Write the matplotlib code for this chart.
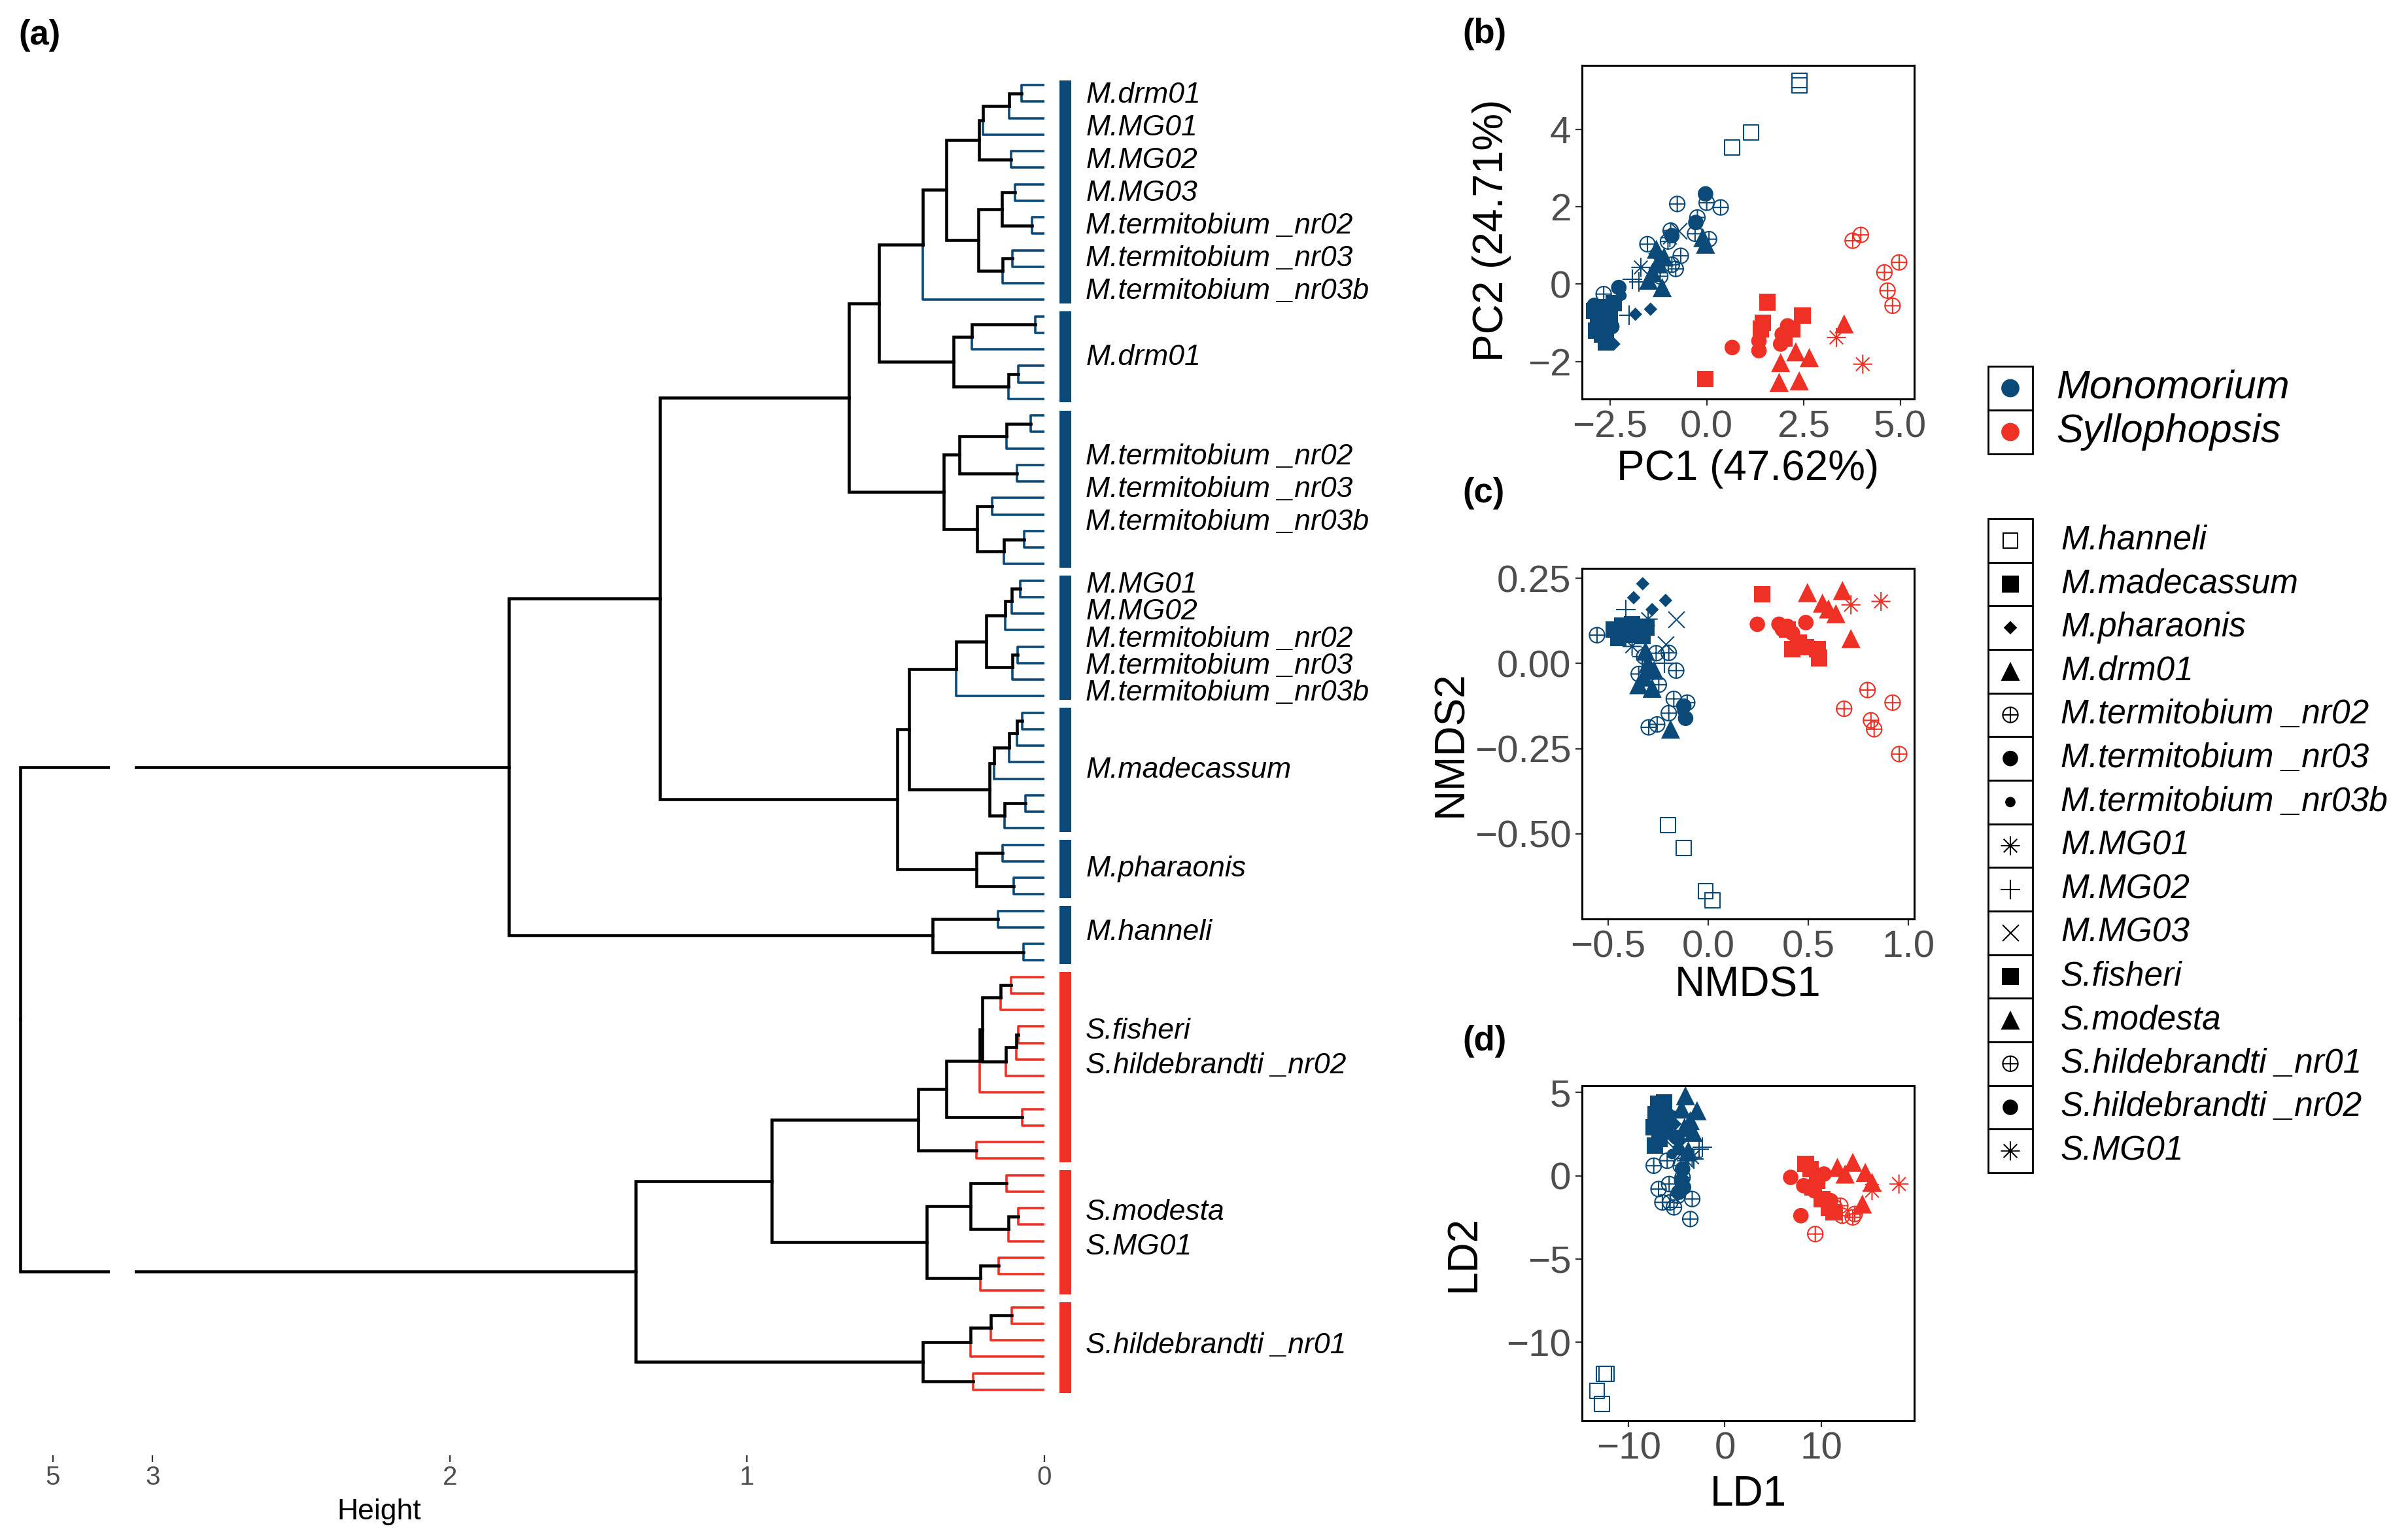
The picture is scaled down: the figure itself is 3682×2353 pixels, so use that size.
import numpy as np
import matplotlib
matplotlib.use('Agg')
import matplotlib.pyplot as plt
from matplotlib.path import Path
from matplotlib.patches import Rectangle
from matplotlib.collections import LineCollection
from matplotlib import font_manager

plt.rcParams['font.family'] = ['Liberation Sans', 'DejaVu Sans']
_names = {f.name for f in font_manager.fontManager.ttflist}
NARROW = 'Liberation Sans Narrow' if 'Liberation Sans Narrow' in _names else 'Liberation Sans'

W, H = 3682, 2353
BLUE = '#0B4A78'
RED = '#EE3124'
GREY = '#4D4D4D'

# ---------------- dendrogram (a) ----------------
n_leaves = 80
n_monomorium = 54          # leaves 0..53 Monomorium, 54..79 Syllophopsis
# merges: (child a, child b, height); ids >= 80 refer to earlier merges (80 + k)
merges = [
    (0, 1, 0.077), (80, 2, 0.118), (81, 3, 0.207), (4, 5, 0.112), (82, 83, 0.219),
    (6, 7, 0.100), (8, 9, 0.042), (85, 86, 0.143), (10, 11, 0.107), (88, 12, 0.140),
    (87, 89, 0.222), (84, 90, 0.330), (91, 13, 0.409),
    (14, 15, 0.031), (93, 16, 0.244), (17, 18, 0.089), (95, 19, 0.120), (94, 96, 0.306),
    (92, 97, 0.556),
    (20, 21, 0.047), (99, 22, 0.128), (23, 24, 0.092), (100, 101, 0.286), (25, 26, 0.176),
    (27, 28, 0.068), (104, 29, 0.137), (103, 105, 0.227), (102, 106, 0.339),
    (98, 107, 0.658),
    (30, 31, 0.081), (109, 32, 0.111), (110, 33, 0.133), (34, 35, 0.090), (112, 36, 0.107),
    (111, 113, 0.195), (114, 37, 0.298),
    (38, 39, 0.074), (116, 40, 0.092), (117, 41, 0.118), (118, 42, 0.169), (43, 44, 0.064),
    (120, 45, 0.134), (119, 121, 0.184), (115, 122, 0.455),
    (46, 47, 0.141), (48, 49, 0.104), (124, 125, 0.229), (123, 126, 0.494),
    (108, 127, 1.294),
    (50, 51, 0.157), (52, 53, 0.071), (129, 130, 0.377), (128, 131, 1.803),
    (54, 55, 0.113), (133, 56, 0.147), (57, 58, 0.089), (135, 59, 0.095), (136, 60, 0.129),
    (134, 137, 0.210), (138, 61, 0.218), (62, 63, 0.074), (139, 140, 0.331), (64, 65, 0.228),
    (141, 142, 0.424),
    (66, 67, 0.128), (68, 69, 0.087), (145, 70, 0.120), (144, 146, 0.249), (71, 72, 0.155),
    (148, 73, 0.216), (147, 149, 0.395), (143, 150, 0.918),
    (74, 75, 0.111), (152, 76, 0.180), (153, 77, 0.249), (78, 79, 0.240), (154, 155, 0.410),
    (151, 156, 1.376),
    (132, 157, 5.11),
]
clusters = [(0, 13), (14, 19), (20, 29), (30, 37), (38, 45), (46, 49), (50, 53),
            (54, 65), (66, 73), (74, 79)]
cluster_labels = [
    ['M.drm01', 'M.MG01', 'M.MG02', 'M.MG03', 'M.termitobium _nr02',
     'M.termitobium _nr03', 'M.termitobium _nr03b'],
    ['M.drm01'],
    ['M.termitobium _nr02', 'M.termitobium _nr03', 'M.termitobium _nr03b'],
    ['M.MG01', 'M.MG02', 'M.termitobium _nr02', 'M.termitobium _nr03', 'M.termitobium _nr03b'],
    ['M.madecassum'],
    ['M.pharaonis'],
    ['M.hanneli'],
    ['S.fisheri', 'S.hildebrandti _nr02'],
    ['S.modesta', 'S.MG01'],
    ['S.hildebrandti _nr01'],
]
label_shift = [0.05, 0, 0, 0.04, 0, -0.05, -0.18, -1.15, -0.18, -0.15]
label_step = [1.98, 1.98, 1.98, 1.64, 1.98, 1.98, 1.98, 2.1, 2.1, 2.1]

# ---------------- ordination data ----------------
species = ['M.hanneli', 'M.madecassum', 'M.pharaonis', 'M.drm01', 'M.termitobium _nr02',
           'M.termitobium _nr03', 'M.termitobium _nr03b', 'M.MG01', 'M.MG02', 'M.MG03',
           'S.fisheri', 'S.modesta', 'S.hildebrandti _nr01', 'S.hildebrandti _nr02', 'S.MG01']

pca_points = {
    'M.hanneli': [(2.39, 5.26), (2.40, 5.13), (0.66, 3.53), (1.14, 3.92)],
    'M.madecassum': [(-2.9, -0.7), (-2.8, -1.0), (-2.7, -1.3), (-2.6, -1.5), (-2.85, -1.2),
                     (-2.5, -0.9), (-2.4, -0.5), (-2.65, -0.6)],
    'M.pharaonis': [(-1.45, -0.65), (-1.84, -0.78), (-2.4, -1.55), (-2.55, -0.95)],
    'M.drm01': [(-0.03, 1.03), (-1.28, 0.52), (-1.15, -0.09), (-1.4, 0.3), (-1.1, 0.7),
                (-1.5, 0.1), (-0.1, 1.2), (-1.3, 0.9)],
    'M.termitobium _nr02': [(-0.76, 2.07), (0.0, 2.1), (0.36, 1.98), (-0.24, 1.72), (0.06, 1.16),
                            (-0.93, 1.38), (-1.53, 1.03), (-0.67, 0.73), (-0.8, 0.39),
                            (-2.66, -0.26), (-0.3, 1.3), (-1.0, 1.1), (-1.2, 0.2), (-0.9, 0.5)],
    'M.termitobium _nr03': [(-0.03, 2.33), (-0.28, 1.59), (-2.27, -0.09), (-0.9, 1.25),
                            (-2.9, -0.55), (-2.45, -1.1)],
    'M.termitobium _nr03b': [(-2.6, -0.8), (-2.2, -0.3), (-1.2, 0.4)],
    'M.MG01': [(-1.7, 0.43), (-0.95, 1.2)],
    'M.MG02': [(-1.92, 0.13), (-1.75, 0.05), (-2.0, -0.8)],
    'M.MG03': [(-0.72, 1.38), (-1.3, 0.6)],
    'S.fisheri': [(1.57, -0.47), (1.4, -1.16), (2.47, -0.82), (2.2, -1.16), (-0.03, -2.46),
                  (2.0, -1.4), (1.45, -1.0)],
    'S.modesta': [(3.55, -1.03), (1.91, -2.03), (2.65, -1.9), (1.87, -2.54), (2.39, -2.5),
                  (2.3, -1.75)],
    'S.hildebrandti _nr01': [(3.77, 1.12), (3.98, 1.27), (4.59, 0.3), (4.97, 0.56),
                             (4.67, -0.17), (4.8, -0.56)],
    'S.hildebrandti _nr02': [(0.66, -1.64), (1.35, -1.72), (1.91, -1.55), (2.09, -1.08),
                             (1.35, -1.47), (1.95, -1.3)],
    'S.MG01': [(3.35, -1.38), (4.03, -2.07)],
}

nmds_points = {
    'M.hanneli': [(-0.2, -0.474), (-0.122, -0.542), (-0.013, -0.669), (0.02, -0.696)],
    'M.madecassum': [(-0.47, 0.1), (-0.43, 0.11), (-0.40, 0.085), (-0.36, 0.1), (-0.33, 0.08),
                     (-0.45, 0.075), (-0.38, 0.115), (-0.31, 0.105)],
    'M.pharaonis': [(-0.327, 0.234), (-0.372, 0.193), (-0.28, 0.158), (-0.213, 0.185)],
    'M.drm01': [(-0.313, 0.036), (-0.297, -0.01), (-0.347, -0.0625), (-0.28, -0.073),
                (-0.188, -0.193), (-0.30, 0.0), (-0.32, -0.04), (-0.27, -0.02)],
    'M.termitobium _nr02': [(-0.555, 0.083), (-0.197, 0.031), (-0.16, -0.021), (-0.347, -0.031),
                            (-0.247, -0.0625), (-0.172, -0.104), (-0.105, -0.115),
                            (-0.197, -0.146), (-0.297, -0.1875), (-0.255, -0.179),
                            (-0.32, 0.02), (-0.26, 0.03)],
    'M.termitobium _nr03': [(-0.122, -0.125), (-0.113, -0.161), (-0.43, 0.1), (-0.35, 0.09)],
    'M.termitobium _nr03b': [(-0.4, 0.12), (-0.13, -0.14)],
    'M.MG01': [(-0.38, 0.05), (-0.30, 0.13)],
    'M.MG02': [(-0.41, 0.158), (-0.33, 0.02), (-0.22, 0.0)],
    'M.MG03': [(-0.16, 0.13), (-0.213, 0.057)],
    'S.fisheri': [(0.27, 0.203), (0.42, 0.042), (0.487, 0.047), (0.545, 0.042), (0.553, 0.016),
                  (0.395, 0.099), (0.45, 0.06)],
    'S.modesta': [(0.495, 0.208), (0.67, 0.214), (0.57, 0.177), (0.637, 0.146), (0.712, 0.073),
                  (0.6, 0.16)],
    'S.hildebrandti _nr01': [(0.795, -0.078), (0.92, -0.115), (0.678, -0.133), (0.812, -0.167),
                             (0.828, -0.193), (0.953, -0.266)],
    'S.hildebrandti _nr02': [(0.245, 0.115), (0.353, 0.115), (0.395, 0.109), (0.487, 0.12),
                             (0.42, 0.089), (0.37, 0.1)],
    'S.MG01': [(0.712, 0.172), (0.862, 0.182)],
}

lda_points = {
    'M.hanneli': [(-12.3, -11.9), (-12.6, -11.9), (-13.3, -12.9), (-12.8, -13.7)],
    'M.madecassum': [(-6.9, 4.3), (-7.2, 3.7), (-6.3, 4.4), (-7.4, 2.9), (-6.8, 2.2),
                     (-5.9, 3.4), (-7.3, 1.8), (-6.2, 2.8)],
    'M.pharaonis': [(-6.0, 3.9), (-5.2, 3.1), (-5.6, 2.4), (-4.6, 2.1)],
    'M.drm01': [(-4.1, 4.8), (-2.9, 3.9), (-3.6, 3.3), (-4.5, 4.0), (-3.3, 2.6), (-4.8, 1.8),
                (-4.2, 2.9), (-3.8, 1.5)],
    'M.termitobium _nr02': [(-7.4, 0.6), (-6.9, -0.8), (-6.5, -1.6), (-5.3, -1.9), (-3.4, -1.4),
                            (-3.6, -2.6), (-5.8, -0.5), (-4.9, -1.2), (-4.4, -0.1), (-5.7, -1.6),
                            (-6.0, 0.9), (-4.6, 0.6)],
    'M.termitobium _nr03': [(-4.3, -0.7), (-4.5, -0.3), (-4.8, -1.0), (-4.4, 0.4), (-5.0, 2.3)],
    'M.termitobium _nr03b': [(-4.7, -0.5), (-5.5, 1.3)],
    'M.MG01': [(-3.4, 1.1), (-4.0, 0.9)],
    'M.MG02': [(-2.36, 1.7), (-3.2, 1.0), (-2.7, 1.6)],
    'M.MG03': [(-4.6, 1.3), (-5.2, 1.6)],
    'S.fisheri': [(8.4, 0.7), (9.1, -0.7), (10.8, -1.9), (10.1, -1.4), (8.9, 0.4), (11.3, -2.2),
                  (9.6, -0.3)],
    'S.modesta': [(11.7, 0.5), (13.3, 0.8), (15.3, -0.4), (14.3, -1.7), (12.5, 0.1), (14.6, 0.2)],
    'S.hildebrandti _nr01': [(9.4, -3.5), (12.2, -2.4), (13.3, -2.5), (11.4, -1.9), (13.5, -2.3),
                             (12.0, -1.8)],
    'S.hildebrandti _nr02': [(6.84, -0.1), (7.9, -2.4), (10.3, 0.1), (8.2, -0.6), (9.3, -0.9),
                             (11.0, -1.5)],
    'S.MG01': [(15.3, -0.9), (18.1, -0.5)],
}

# ---------------- marker shapes ----------------
_c = Path.unit_circle()
_plus = Path([[-1, 0], [1, 0], [0, -1], [0, 1]],
             [Path.MOVETO, Path.LINETO, Path.MOVETO, Path.LINETO])
OPLUS = Path.make_compound_path(_c, _plus)
_s = np.sqrt(0.5)
STAR8 = Path([[-1, 0], [1, 0], [0, -1], [0, 1], [-_s, -_s], [_s, _s], [-_s, _s], [_s, -_s]],
             [Path.MOVETO, Path.LINETO] * 4)

# marker, size (pt^2), kind: 'fill' | 'open' | 'line'
marker_style = {
    'M.hanneli': ('s', 270, 'open'),
    'M.madecassum': ('s', 330, 'fill'),
    'M.pharaonis': ('D', 110, 'fill'),
    'M.drm01': ('^', 440, 'fill'),
    'M.termitobium _nr02': (OPLUS, 280, 'open'),
    'M.termitobium _nr03': ('o', 290, 'fill'),
    'M.termitobium _nr03b': ('o', 130, 'fill'),
    'M.MG01': (STAR8, 440, 'open'),
    'M.MG02': ('+', 440, 'line'),
    'M.MG03': ('x', 320, 'line'),
    'S.fisheri': ('s', 330, 'fill'),
    'S.modesta': ('^', 440, 'fill'),
    'S.hildebrandti _nr01': (OPLUS, 280, 'open'),
    'S.hildebrandti _nr02': ('o', 290, 'fill'),
    'S.MG01': (STAR8, 440, 'open'),
}


def fig_rect(x0, y0, x1, y1):
    return [x0 / W, 1 - y1 / H, (x1 - x0) / W, (y1 - y0) / H]


def put_marker(ax, x, y, sp, col, scale=1.0, **kw):
    mk, size, kind = marker_style[sp]
    if kind == 'fill':
        ax.scatter(x, y, marker=mk, s=size * scale, c=col, edgecolors='none', **kw)
    elif kind == 'open':
        ax.scatter(x, y, marker=mk, s=size * scale, facecolors='none', edgecolors=col,
                   linewidths=1.5, **kw)
    else:
        ax.scatter(x, y, marker=mk, s=size * scale, color=col, linewidths=1.5, **kw)


fig = plt.figure(figsize=(W / 100, H / 100), dpi=100)
fig.patch.set_facecolor('white')

# ---------------- (a) dendrogram ----------------
ax_r = fig.add_axes(fig_rect(206, 60, 1597, 2225))
ax_l = fig.add_axes(fig_rect(20, 60, 168, 2225))

pos = list(np.arange(n_leaves, dtype=float))
hgt = [0.0] * n_leaves
edges_k, edges_b, edges_r = [], [], []
for a, b, h in merges:
    p = (pos[a] + pos[b]) / 2
    for c in (a, b):
        seg = [(h, p), (h, pos[c]), (hgt[c], pos[c])]
        if c >= n_leaves:
            edges_k.append(seg)
        elif c < n_monomorium:
            edges_b.append(seg)
        else:
            edges_r.append(seg)
    pos.append(p)
    hgt.append(h)

for ax in (ax_l, ax_r):
    ax.add_collection(LineCollection(edges_b, colors=BLUE, linewidths=2.6, capstyle='butt'))
    ax.add_collection(LineCollection(edges_r, colors=RED, linewidths=2.6, capstyle='butt'))
    ax.add_collection(LineCollection(edges_k, colors='black', linewidths=3.3,
                                     capstyle='projecting', joinstyle='miter'))
    ax.set_ylim(82.97, -2.78)
    ax.set_yticks([])
    for sp in ax.spines.values():
        sp.set_visible(False)
    ax.tick_params(axis='x', direction='out', length=7, width=1.6, color='#333333',
                   labelsize=29, labelcolor=GREY, pad=4)
    ax.patch.set_alpha(0)

ax_r.set_xlim(3.0605, 0)
ax_r.set_xticks([3, 2, 1, 0])
ax_r.set_xticklabels(['3', '2', '1', '0'], family=NARROW)
ax_l.set_xlim(5.134, 4.8086)
ax_l.set_xticks([5])
ax_l.set_xticklabels(['5'], family=NARROW)

bar_h = -0.0704
label_h = -0.139
for k, (s, e) in enumerate(clusters):
    col = BLUE if s < n_monomorium else RED
    ax_r.plot([bar_h, bar_h], [s - 0.3, e + 0.22], color=col, lw=13,
              solid_capstyle='butt', clip_on=False)
    labs = cluster_labels[k]
    centre = (s + e) / 2 + label_shift[k]
    for j, lab in enumerate(labs):
        yy = centre + (j - (len(labs) - 1) / 2) * label_step[k]
        ax_r.text(label_h, yy, lab, style='italic', fontsize=32, ha='left', va='center',
                  clip_on=False)

fig.text(580 / W, 1 - 2311 / H, 'Height', ha='center', va='center', fontsize=32,
         family=NARROW)
fig.text(28 / W, 1 - 54 / H, '(a)', ha='left', va='center', fontsize=38, weight='bold')


# ---------------- (b)-(d) ordinations ----------------
def panel(rect, pts, xlim, ylim, xticks, yticks, xfmt, yfmt, xlabel, ylabel,
          xlab_pos, ylab_pos):
    ax = fig.add_axes(rect)
    for sp in species:
        col = BLUE if sp.startswith('M.') else RED
        arr = np.array(pts[sp])
        put_marker(ax, arr[:, 0], arr[:, 1], sp, col)
    ax.set_xlim(*xlim)
    ax.set_ylim(*ylim)
    ax.set_xticks(xticks)
    ax.set_yticks(yticks)
    ax.set_xticklabels([xfmt.format(v).replace('-', '\u2212') for v in xticks])
    ax.set_yticklabels([yfmt.format(v).replace('-', '\u2212') for v in yticks])
    ax.tick_params(direction='out', length=7, width=1.6, color='#333333', labelsize=42,
                   labelcolor=GREY, pad=5)
    for s in ax.spines.values():
        s.set_linewidth(2.2)
        s.set_color('black')
    ax.set_xlabel(xlabel, fontsize=46)
    ax.set_ylabel(ylabel, fontsize=46)
    ax.xaxis.set_label_coords(*xlab_pos)
    ax.yaxis.set_label_coords(*ylab_pos)
    ax.xaxis.label.set_va('center')
    ax.yaxis.label.set_va('center')
    return ax


panel(fig_rect(2419, 100, 2927, 610), pca_points, (-3.22, 5.36), (-2.97, 5.65),
      [-2.5, 0, 2.5, 5.0], [-2, 0, 2, 4], '{:.1f}', '{:.0f}',
      'PC1 (47.62%)', 'PC2 (24.71%)', (0.5, -0.21), (-0.272, 0.505))
panel(fig_rect(2419, 869, 2927, 1405), nmds_points, (-0.63, 1.028), (-0.75, 0.279),
      [-0.5, 0, 0.5, 1.0], [-0.5, -0.25, 0, 0.25], '{:.1f}', '{:.2f}',
      'NMDS1', 'NMDS2', (0.5, -0.19), (-0.395, 0.5))
panel(fig_rect(2419, 1660, 2927, 2172), lda_points, (-14.86, 19.69), (-14.7, 5.4),
      [-10, 0, 10], [-10, -5, 0, 5], '{:.0f}', '{:.0f}',
      'LD1', 'LD2', (0.5, -0.22), (-0.356, 0.5))

for lab, yc in (('(b)', 52), ('(c)', 754), ('(d)', 1592)):
    fig.text(2236 / W, 1 - yc / H, lab, ha='left', va='center', fontsize=38, weight='bold')

# ---------------- legends ----------------
key_px = 66.7
genera = ['Monomorium', 'Syllophopsis']
genus_colors = [BLUE, RED]
ax_g = fig.add_axes(fig_rect(3040, 560, 3682, 694))
ax_g.set_xlim(0, 642 / key_px)
ax_g.set_ylim(len(genera), 0)
ax_g.axis('off')
for i, (g, col) in enumerate(zip(genera, genus_colors)):
    ax_g.add_patch(Rectangle((0, i), 68 / key_px, 1, fill=False, lw=2.0, ec='black',
                             clip_on=False))
    ax_g.scatter([34 / key_px], [i + 0.5], s=400, c=col, edgecolors='none', clip_on=False)
    ax_g.text(104 / key_px, i + 0.5, g, style='italic', fontsize=44, va='center', ha='left')

ax_s = fig.add_axes(fig_rect(3040, 793, 3682, 1793))
ax_s.set_xlim(0, 642 / key_px)
ax_s.set_ylim(len(species), 0)
ax_s.axis('off')
for i, sp in enumerate(species):
    ax_s.add_patch(Rectangle((0, i), 68 / key_px, 1, fill=False, lw=2.0, ec='black',
                             clip_on=False))
    put_marker(ax_s, [34 / key_px], [i + 0.5], sp, 'black', scale=1.0, clip_on=False)
    ax_s.text(111 / key_px, i + 0.5, sp, style='italic', fontsize=37, va='center', ha='left')

fig.savefig('out.png', dpi=100, facecolor='white')
